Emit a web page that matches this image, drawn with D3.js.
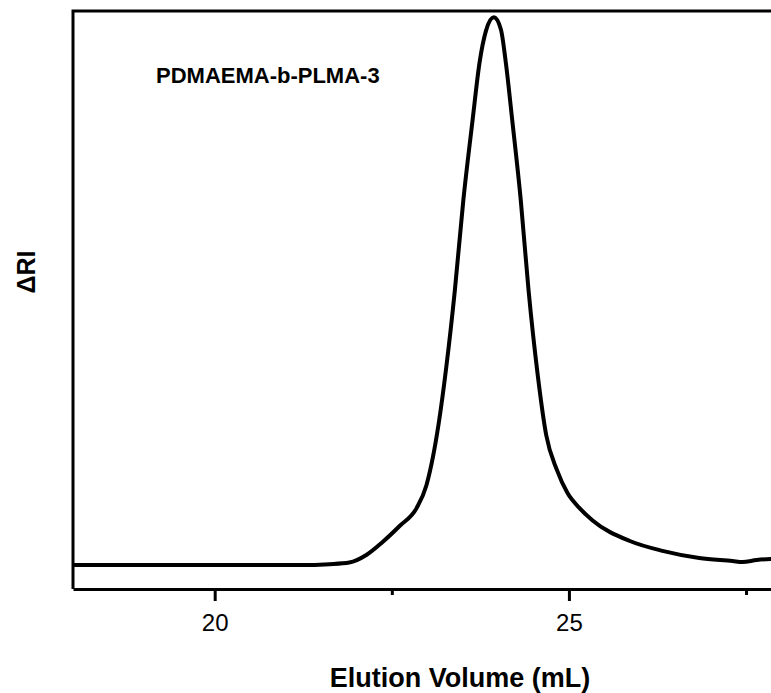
<!DOCTYPE html>
<html lang="en">
    <head>
        <meta charset="UTF-8">
        <title>GPC trace</title>
        <style>
            body {
                margin: 0;
                background: #fff;
                overflow: hidden;
            }
            svg {
                display: block;
                font-family: "Liberation Sans", Arial, sans-serif;
            }
            .axis path,
            .axis line {
                fill: none;
                stroke: #000;
                stroke-width: 3px;
            }
            .axis text {
                font-size: 24px;
                fill: #000;
            }
            .line {
                fill: none;
                stroke: #000;
                stroke-width: 4px;
                stroke-linejoin: round;
            }
        </style>
    </head>

    <body>
        <script src="https://cdn.jsdelivr.net/npm/d3@7"></script>
        <script>

            // elution volume (mL) and detector response (arbitrary, 0-100 across the frame)
            var volume = [18.0, 19.79, 21.2, 21.62, 21.9, 22.14, 22.37, 22.61, 22.85, 22.99,
                23.08, 23.16, 23.27, 23.39, 23.51, 23.64, 23.74, 23.83, 23.94, 24.04,
                24.11, 24.2, 24.32, 24.43, 24.56, 24.68, 24.83, 24.98, 25.15, 25.33,
                25.86, 26.32, 26.84, 27.31, 27.45, 27.65, 27.85, 28.05];
            var signal = [4.15, 4.15, 4.15, 4.3, 4.58, 5.88, 8.13, 10.9, 14.0, 18.0,
                22.8, 28.5, 38.5, 51.7, 67.3, 81.1, 91.2, 96.6, 98.9, 96.8,
                91.0, 81.1, 67.3, 51.7, 37.0, 26.6, 20.6, 16.6, 14.0, 11.9,
                8.3, 6.6, 5.36, 4.84, 4.67, 5.02, 5.19, 5.19];
            var majorTicks = [20, 25];
            var minorTicks = [22.5, 27.5];
            var sampleName = "PDMAEMA-b-PLMA-3";

            var data = volume.map(function(v, i) {
                return {x: v, y: signal[i]};
            });

            var margin = {top: 11, left: 73},
                width = 712,
                height = 578;

            var x = d3.scaleLinear()
                .domain([18, 28.05])
                .range([0, width]);

            var y = d3.scaleLinear()
                .domain([0, 100])
                .range([height, 0]);

            var line = d3.line()
                .curve(d3.curveMonotoneX)
                .x(function(d) { return x(d.x); })
                .y(function(d) { return y(d.y); });

            var svg = d3.select("body").append("svg")
                .attr("width", 771)
                .attr("height", 693);

            var g = svg.append("g")
                .attr("transform", "translate(" + margin.left + "," + margin.top + ")");

            // frame (right edge falls outside the picture)
            g.append("path")
                .attr("d", "M" + width + ",0H0V" + height)
                .attr("fill", "none")
                .attr("stroke", "#000")
                .attr("stroke-width", 3);

            g.append("g")
                .attr("class", "axis")
                .attr("transform", "translate(0," + height + ")")
                .call(d3.axisBottom(x).tickValues(majorTicks).tickSize(12).tickPadding(13)
                    .tickFormat(d3.format("d")).tickSizeOuter(0));

            g.append("g")
                .attr("class", "axis")
                .attr("transform", "translate(0," + height + ")")
                .call(d3.axisBottom(x).tickValues(minorTicks).tickSize(6).tickFormat("").tickSizeOuter(0))
                .select(".domain").remove();

            g.append("path")
                .datum(data)
                .attr("class", "line")
                .attr("d", line);

            g.append("text")
                .attr("x", 83)
                .attr("y", 72)
                .attr("font-size", "22px")
                .attr("font-weight", "bold")
                .text(sampleName);

            svg.append("text")
                .attr("x", 460)
                .attr("y", 687)
                .attr("text-anchor", "middle")
                .attr("font-size", "27px")
                .attr("font-weight", "bold")
                .text("Elution Volume (mL)");

            svg.append("text")
                .attr("transform", "translate(35,272) rotate(-90)")
                .attr("text-anchor", "middle")
                .attr("font-size", "25px")
                .attr("font-weight", "bold")
                .text("ΔRI");
        </script>
    </body>

</html>
